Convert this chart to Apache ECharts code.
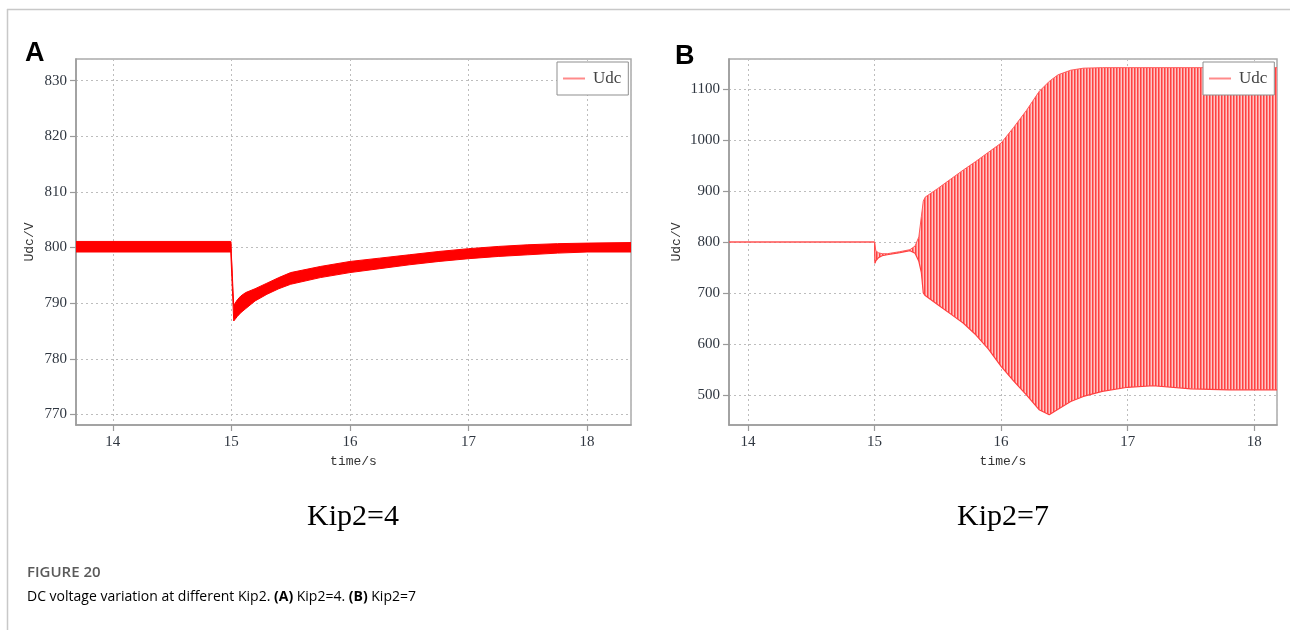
<!DOCTYPE html>
<html>
<head>
<meta charset="utf-8">
<script src="https://cdn.jsdelivr.net/npm/echarts@6/dist/echarts.min.js"></script>
<style>
html,body{margin:0;padding:0;background:#fff;}
#chart{width:1290px;height:630px;}
</style>
</head>
<body>
<div id="chart"></div>
<script>
// ---- Panel A (Kip2=4): envelope of the rippling Udc trace ----
const timeA  = [13.69, 14.995, 15.0, 15.02, 15.05, 15.08, 15.12, 15.2, 15.3, 15.4, 15.5, 15.75, 16.0, 16.25, 16.5, 16.75, 17.0, 17.25, 17.5, 17.75, 18.0, 18.37];
const upperA = [801.1, 801.1, 801.0, 789.6, 790.6, 791.3, 791.9, 792.6, 793.6, 794.6, 795.5, 796.6, 797.5, 798.1, 798.7, 799.3, 799.8, 800.2, 800.5, 800.7, 800.8, 800.9];
const lowerA = [799.2, 799.2, 799.0, 786.8, 787.6, 788.3, 789.0, 790.4, 791.6, 792.6, 793.4, 794.6, 795.5, 796.2, 796.9, 797.5, 798.0, 798.4, 798.7, 799.0, 799.2, 799.2];

// ---- Panel B (Kip2=7): envelope of the oscillating Udc trace ----
const timeB  = [13.85, 15.0, 15.003, 15.01, 15.03, 15.06, 15.1, 15.2, 15.28, 15.32, 15.35, 15.37, 15.385, 15.4, 15.5, 15.6, 15.7, 15.8, 15.9, 16.0, 16.1, 16.2, 16.3, 16.38, 16.45, 16.55, 16.65, 16.8, 17.0, 17.2, 17.5, 17.8, 18.0, 18.18];
const upperB = [800, 800, 800, 783, 779, 777, 777, 781, 785, 792, 810, 850, 880, 888, 905, 923, 941, 958, 976, 994, 1025, 1058, 1095, 1115, 1128, 1137, 1141, 1142, 1142, 1142, 1142, 1142, 1142, 1142];
const lowerB = [800, 800, 758, 763, 769, 773, 775, 779, 783, 778, 762, 740, 700, 695, 677, 659, 641, 618, 590, 556, 527, 500, 471, 461, 472, 487, 497, 507, 515, 518, 512, 510, 510, 510];

// axis ranges
const xRangeA = [13.69, 18.37], yRangeA = [768.1, 833.9];
const xRangeB = [13.85, 18.18], yRangeB = [441, 1159];

function pairs(t, v) { return t.map((x, i) => [x, v[i]]); }

function stripes() {
  const c = document.createElement('canvas');
  c.width = 3; c.height = 4;
  const g = c.getContext('2d');
  ['#ff4242', '#ff8080', '#ffc6c6'].forEach((col, i) => { g.fillStyle = col; g.fillRect(i, 0, 1, 4); });
  return c;
}

// band polygon drawn through the axis scales (api.coord)
function bandSeries(xi, t, up, lo, fill) {
  return {
    type: 'custom', xAxisIndex: xi, yAxisIndex: xi, silent: true, clip: true,
    data: [[t[0], up[0]]],
    renderItem: function (params, api) {
      const pts = [];
      for (let i = 0; i < t.length; i++) pts.push(api.coord([t[i], up[i]]));
      for (let i = t.length - 1; i >= 0; i--) pts.push(api.coord([t[i], lo[i]]));
      return { type: 'polygon', shape: { points: pts }, style: { fill: fill, stroke: null } };
    }
  };
}

const tickFont = { fontFamily: 'Liberation Serif', fontSize: 15, color: '#2f3640' };
const nameFont = { fontFamily: 'Liberation Mono', fontSize: 13, color: '#333' };
const splitDot = { show: true, lineStyle: { color: '#bdbdbd', width: 1, type: [2, 3] } };
const axLine = { show: true, lineStyle: { color: '#9a9a9a', width: 1.5 } };
const axTick = { show: true, length: 6, lineStyle: { color: '#9a9a9a', width: 1.2 } };
const plain = v => String(Math.round(v));

function xAx(idx, range) {
  return {
    type: 'value', gridIndex: idx, min: range[0], max: range[1],
    minInterval: 1, maxInterval: 1,
    name: 'time/s', nameLocation: 'middle', nameGap: 27, nameTextStyle: nameFont,
    axisLine: axLine, axisTick: axTick, splitLine: splitDot,
    axisLabel: Object.assign({ margin: 10, showMinLabel: false, showMaxLabel: false, formatter: plain }, tickFont)
  };
}
function yAx(idx, range, step, gap) {
  return {
    type: 'value', gridIndex: idx, min: range[0], max: range[1],
    minInterval: step, maxInterval: step,
    name: 'Udc/V', nameLocation: 'middle', nameGap: gap, nameTextStyle: nameFont,
    axisLine: axLine, axisTick: axTick, splitLine: splitDot,
    axisLabel: Object.assign({ margin: 9, showMinLabel: false, showMaxLabel: false, formatter: plain }, tickFont)
  };
}

function legendAt(left) {
  return {
    left: left, top: 62, orient: 'horizontal', selectedMode: false,
    data: [{ name: 'Udc', icon: 'rect', itemStyle: { color: '#ff8a8a', borderWidth: 0 } }],
    itemWidth: 22, itemHeight: 2,
    padding: [8, 7, 8, 6], borderColor: '#8f8f8f', borderWidth: 1, backgroundColor: '#fff',
    textStyle: { fontFamily: 'Liberation Serif', fontSize: 17, color: '#444', padding: [0, 0, 0, 3], lineHeight: 17 }
  };
}

const chart = echarts.init(document.getElementById('chart'), null, { renderer: 'canvas' });
chart.setOption({
  animation: false,
  backgroundColor: '#fff',
  grid: [
    { left: 76, top: 59, width: 555, height: 366, show: true, borderColor: '#ababab', borderWidth: 1.5, backgroundColor: 'transparent' },
    { left: 729, top: 59, width: 548, height: 366, show: true, borderColor: '#ababab', borderWidth: 1.5, backgroundColor: 'transparent' }
  ],
  xAxis: [xAx(0, xRangeA), xAx(1, xRangeB)],
  yAxis: [yAx(0, yRangeA, 10, 40), yAx(1, yRangeB, 100, 46)],
  legend: [legendAt(557), legendAt(1203)],
  series: [
    bandSeries(0, timeA, upperA, lowerA, '#ff0000'),
    { name: 'lowerA', type: 'line', xAxisIndex: 0, yAxisIndex: 0, symbol: 'none',
      lineStyle: { color: '#ff0000', width: 1 }, data: pairs(timeA, lowerA) },
    { name: 'Udc', type: 'line', xAxisIndex: 0, yAxisIndex: 0, symbol: 'none',
      itemStyle: { color: '#ff8a8a' },
      lineStyle: { color: '#ff0000', width: 1 }, data: pairs(timeA, upperA) },
    bandSeries(1, timeB, upperB, lowerB, { image: stripes(), repeat: 'repeat' }),
    { name: 'lowerB', type: 'line', xAxisIndex: 1, yAxisIndex: 1, symbol: 'none',
      lineStyle: { color: '#ff4040', width: 1.2 }, data: pairs(timeB, lowerB) },
    { name: 'Udc', type: 'line', xAxisIndex: 1, yAxisIndex: 1, symbol: 'none',
      itemStyle: { color: '#ff8a8a' },
      lineStyle: { color: '#ff5a5a', width: 1 }, data: pairs(timeB, upperB) }
  ],
  graphic: [
    { type: 'line', shape: { x1: 7, y1: 9.5, x2: 1290, y2: 9.5 }, style: { stroke: '#c8c8c8', lineWidth: 1.5 }, silent: true },
    { type: 'line', shape: { x1: 7.5, y1: 9, x2: 7.5, y2: 630 }, style: { stroke: '#c8c8c8', lineWidth: 1.5 }, silent: true },
    { type: 'text', left: 25, top: 40, style: { text: 'A', font: 'bold 27px "Liberation Sans"', fill: '#000' } },
    { type: 'text', left: 675, top: 43, style: { text: 'B', font: 'bold 27px "Liberation Sans"', fill: '#000' } },
    { type: 'text', x: 353, y: 517, style: { text: 'Kip2=4', font: '30px "Liberation Serif"', fill: '#000', textAlign: 'center', textVerticalAlign: 'middle' } },
    { type: 'text', x: 1003, y: 517, style: { text: 'Kip2=7', font: '30px "Liberation Serif"', fill: '#000', textAlign: 'center', textVerticalAlign: 'middle' } },
    { type: 'text', x: 27, y: 573, style: { text: 'FIGURE 20', font: '600 15px "Open Sans"', fill: '#5a5a5a', textVerticalAlign: 'middle' } },
    { type: 'text', x: 27, y: 597, style: {
        text: '{n|DC voltage variation at different Kip2. }{b|(A)}{n| Kip2=4. }{b|(B)}{n| Kip2=7}',
        textVerticalAlign: 'middle',
        rich: {
          n: { fontFamily: 'Open Sans', fontSize: 14, fontWeight: 'normal', color: '#6a6a6a' },
          b: { fontFamily: 'Open Sans', fontSize: 14, fontWeight: 'bold', color: '#555' }
        } } }
  ]
});
</script>
</body>
</html>
